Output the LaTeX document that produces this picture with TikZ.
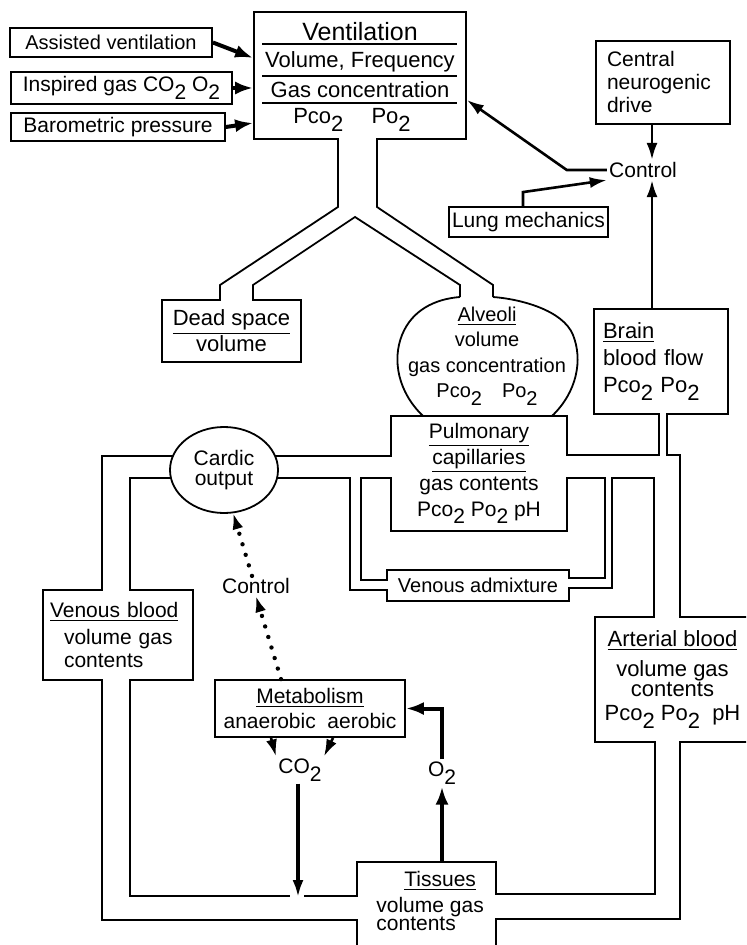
\documentclass[tikz,border=0pt]{standalone}
\usepackage{fontspec}
\setmainfont{Liberation Sans}
\usetikzlibrary{arrows.meta,shapes.geometric}
\newcommand{\lo}[1]{\raisebox{-0.7ex}{#1}}
\tikzset{
    box/.style={draw,line width=0.9pt,inner sep=1.5pt,align=center},
    lbl/.style={inner sep=1pt,align=center},
    wall/.style={line width=0.9pt},
    gap/.style={draw=white,line width=1.8pt},
    arrow/.style={-{Latex[length=8.5pt,width=5.5pt]},line width=1.3pt},
    bigarrow/.style={-{Latex[length=9pt,width=6.5pt]},line width=2pt},
    dotarrow/.style={-{Latex[length=8pt,width=5.5pt]},line width=2.2pt,line cap=round,dash pattern=on 0pt off 5.5pt}
}

\begin{document}
\begin{tikzpicture}[x=0.5pt,y=-0.5pt,every node/.style={font=\fontsize{10}{12}\selectfont}]
    \useasboundingbox (0,0) rectangle (746,945);
    \fill[white] (0,0) rectangle (746,945);
    \clip (0,0) rectangle (746,945);

    % ventilation
    \node[box,minimum width=106pt,minimum height=63.5pt] (vent) at (360,75.5) {};
    \node[lbl,font=\fontsize{12.5}{14}\selectfont] (vtitle) at (360,32) {Ventilation};
    \node[lbl,font=\fontsize{11}{13}\selectfont] (vvol) at (360,62) {Volume, Frequency};
    \node[lbl,font=\fontsize{11}{13}\selectfont] (vgas) at (360,90) {Gas concentration};
    \node[lbl,font=\fontsize{11}{13}\selectfont] (vpp) at (352,120) {Pco\lo2\quad\ Po\lo2};
    \draw[wall] (262,44) -- (457,44) (262,76) -- (457,76) (262,103) -- (457,103);

    \node[box,minimum width=101pt,minimum height=14.5pt] (assist) at (111,42.5) {Assisted ventilation};
    \node[box,minimum width=110.5pt,minimum height=16pt,font=\fontsize{10.5}{12}\selectfont] (inspired) at (121.5,88) {Inspired gas CO\lo2 O\lo2};
    \node[box,minimum width=107pt,minimum height=14pt,font=\fontsize{10.5}{12}\selectfont] (baro) at (118,127) {Barometric pressure};
    \draw[bigarrow] (assist.east) -- (vent.west |- 0,58);
    \draw[bigarrow] (inspired.east) -- (vent.west |- inspired.east);
    \draw[bigarrow] (baro.east) -- (vent.west |- 0,123);

    % respiratory control
    \node[box,minimum width=67pt,minimum height=41.5pt,text width=56pt,align=left,font=\fontsize{10.5}{11.5}\selectfont] (central) at (663,82.5) {Central\\neurogenic\\drive};
    \node[lbl,font=\fontsize{10.5}{12}\selectfont] (control1) at (643,170) {Control};
    \coordinate (ctl) at (652,170);
    \node[box,minimum width=79.5pt,minimum height=15pt,font=\fontsize{10.5}{12}\selectfont] (lung) at (528.5,222) {Lung mechanics};
    \draw[arrow] (central.south -| ctl) -- (ctl |- control1.north);
    \draw[arrow] (control1.west) -- ++(-40,0) -- (vent.east |- 0,100);
    \draw[arrow] (lung.north -| 523,0) -- ++(0,-14) -- (control1.south west);

    % airways
    \node[box,minimum width=69.5pt,minimum height=31pt,font=\fontsize{11}{13}\selectfont] (dead) at (231.5,331) {\underline{Dead space}\\volume};
    \node[lbl,font=\fontsize{10}{12.8}\selectfont] (alveoli) at (487,356) {\underline{Alveoli}\\volume\\gas concentration\\Pco\lo2\quad Po\lo2};
    \draw[wall] (338,139) -- (338,207) -- (220,285) -- (dead.north -| 220,0);
    \draw[wall] (377,139) -- (377,207) -- (493,285) -- (493,297);
    \draw[wall] (dead.north -| 253,0) -- (253,285) -- (355,217) -- (460,285) -- (460,297);
    \draw[wall] (423,416) .. controls (398,392) and (392,360) .. (402,335) .. controls (412,310) and (435,299) .. (460,297);
    \draw[wall] (493,297) .. controls (520,299) and (563,310) .. (573,335) .. controls (583,360) and (577,392) .. (552,416);

    % blood compartments
    \node[box,minimum width=88pt,minimum height=57.5pt,font=\fontsize{10.5}{13}\selectfont] (pulm) at (479,473.5) {\underline{Pulmonary}\\\underline{capillaries}\\gas contents\\Pco\lo2 Po\lo2 pH};
    \node[box,minimum width=67pt,minimum height=52.5pt,text width=58pt,align=left,font=\fontsize{11}{13.5}\selectfont] (brain) at (661,361.5) {\underline{Brain}\\blood flow\\Pco\lo2 Po\lo2};
    \node[draw,ellipse,line width=0.9pt,minimum width=54pt,minimum height=43pt,inner sep=0pt,align=center,font=\fontsize{10.5}{10}\selectfont] (cardiac) at (224,470) {Cardic\\output};
    \node[box,minimum width=75pt,minimum height=45pt,text width=68pt,align=left,font=\fontsize{10.5}{11.5}\selectfont] (venous) at (118,635) {\underline{Venous blood}\\[2pt]\hspace*{7pt}volume gas\\\hspace*{7pt}contents};
    \node[box,minimum width=91pt,minimum height=15.5pt] (venadm) at (478,585.5) {Venous admixture};
    \node[box,minimum width=69.5pt,minimum height=49pt] (tissues) at (426.5,911) {};
    \node[lbl,align=left,anchor=west,font=\fontsize{10.5}{12}\selectfont] (tistext) at (374,901) {\hspace*{14pt}\underline{Tissues}\\[1pt]volume gas\\[-3pt]contents};
    \node[box,minimum width=77.5pt,minimum height=62.5pt,font=\fontsize{11}{12}\selectfont] (arterial) at (672.5,679.5) {\underline{Arterial blood}\\[3pt]volume gas\\[-2pt]contents\\Pco\lo2 Po\lo2\ \ pH};

    % metabolism
    \node[lbl,font=\fontsize{10.5}{12}\selectfont] (control2) at (256,586) {Control};
    \node[box,minimum width=95pt,minimum height=28.5pt,font=\fontsize{10.5}{12.5}\selectfont] (metab) at (310,708.5) {\underline{Metabolism}\\anaerobic\ \ aerobic};
    \node[lbl,font=\fontsize{10.5}{12}\selectfont] (co2) at (300,770) {CO\lo2};
    \node[lbl,font=\fontsize{10.5}{12}\selectfont] (o2) at (442,773) {O\lo2};

    % openings of the pipes
    \draw[gap] (339.2,139) -- (375.8,139) (221.2,300) -- (251.8,300);
    \draw[gap] (391,457.2) -- (391,476.8) (567,456.2) -- (567,476.8);
    \draw[gap] (660.2,414) -- (665.8,414);
    \draw[gap] (103.2,590) -- (128.8,590) (103.2,680) -- (128.8,680);
    \draw[gap] (387,581.2) -- (387,588.8) (569,579.2) -- (569,586.8);
    \draw[gap] (357,897.2) -- (357,918.8) (496,895.2) -- (496,917.8);
    \draw[gap] (655.2,617) -- (678.8,617) (656.2,742) -- (678.8,742);

    % circulation
    \draw[wall] (173,456) -- (102,456) -- (venous.north -| 102,0);
    \draw[wall] (171,478) -- (130,478) -- (venous.north -| 130,0);
    \draw[wall] (venous.south -| 102,0) -- (102,920) -- (tissues.west |- 0,920);
    \draw[wall] (venous.south -| 130,0) -- (130,896) -- (290,896);
    \draw[wall] (304,896) -- (tissues.west |- 0,896);
    \draw[wall] (275,456) -- (pulm.west |- 0,456);
    \draw[wall] (277,478) -- (350,478) -- (350,590) -- (venadm.west |- 0,590);
    \draw[wall] (pulm.west |- 0,478) -- (361,478) -- (361,580) -- (venadm.west |- 0,580);
    \draw[wall] (pulm.east |- 0,478) -- (605,478) -- (605,578) -- (venadm.east |- 0,578);
    \draw[wall] (venadm.east |- 0,588) -- (612,588) -- (612,478) -- (654,478) -- (arterial.north -| 654,0);
    \draw[wall] (pulm.east |- 0,455) -- (659,455) -- (brain.south -| 659,0);
    \draw[wall] (brain.south -| 667,0) -- (667,455) -- (680,455) -- (arterial.north -| 680,0);
    \draw[wall] (tissues.east |- 0,894) -- (655,894) -- (arterial.south -| 655,0);
    \draw[wall] (tissues.east |- 0,919) -- (680,919) -- (arterial.south -| 680,0);

    \draw[arrow] (brain.north -| ctl) -- (ctl |- control1.south);

    % gas exchange in the tissues
    \coordinate (co2end) at (298,897);
    \draw[dotarrow] (metab.north -| 281,0) -- (control2.south);
    \draw[dotarrow] (control2.north -| 252,0) -- (cardiac.-78);
    \draw[arrow] (metab.south -| 271,0) -- (co2.north west);
    \draw[arrow] (metab.south -| 333,0) -- (co2.north east);
    \draw[arrow,line width=1.6pt] (co2.south -| co2end) -- (co2end);
    \draw[bigarrow] (tissues.north -| o2.south) -- (o2.south);
    \draw[bigarrow] (o2.north) |- (metab.east);
\end{tikzpicture}
\end{document}
